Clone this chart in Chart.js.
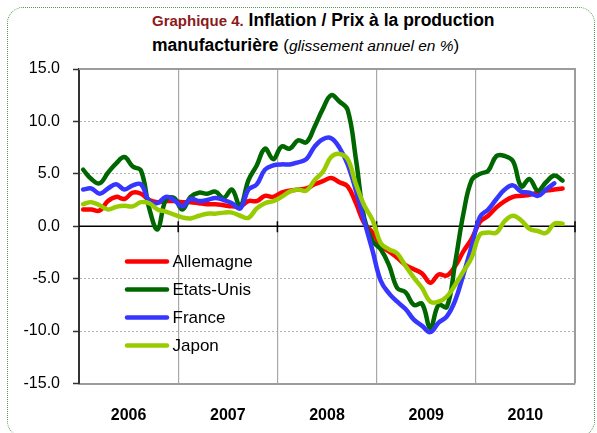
<!DOCTYPE html>
<html lang="fr">
<head>
<meta charset="utf-8">
<title>Graphique 4</title>
<script src="https://cdn.jsdelivr.net/npm/chart.js@4.4.1/dist/chart.umd.min.js"></script>
<style>
  html, body { margin: 0; padding: 0; background: #fff; overflow: hidden; }
  #wrap { position: relative; width: 597px; height: 433px; }
  #frame {
    position: absolute; left: 7px; top: 7px; width: 588px; height: 430px;
    border: 1px dotted #4a9a4a; border-radius: 16px; box-sizing: border-box;
  }
  #title {
    position: absolute; left: 152px; top: 8px;
    font-family: "Liberation Sans", Arial, sans-serif;
    font-weight: bold; font-size: 17.5px; line-height: 24px;
    color: #000; white-space: nowrap;
  }
  #title .num { color: #8b1a1a; font-size: 15px; }
  #title .sub { font-weight: normal; font-size: 17px; }
  #title .sub i { font-size: 15.5px; }
  canvas { position: absolute; left: 0; top: 0; }
</style>
</head>
<body>
<div id="wrap">
  <div id="frame"></div>
  <div id="title"><span class="num">Graphique 4.</span> Inflation / Prix à la production<br>manufacturière <span class="sub">(<i>glissement annuel en %</i>)</span></div>
  <canvas id="chart" width="597" height="433"></canvas>
</div>
<script>
// Glissement annuel mensuel, janvier 2006 -> novembre 2010

const countries = ['Allemagne', 'Etats-Unis', 'France', 'Japon'];
const colours = ['#ff0000', '#006600', '#3636ff', '#99cc00'];
const yearLabels = ['2006', '2007', '2008', '2009', '2010'];
const yearEdges = [12, 24, 36, 48, 60];

const allemagne = [
    1.6, 1.6, 1.5, 2.4, 2.8, 2.6, 3.2, 3.1, 2.5, 2.3, 2.4, 2.4,
    2.3, 2.3, 2.2, 2.1, 2.1, 2.0, 1.9, 1.9, 2.4, 2.4, 2.9, 2.8,
    3.2, 3.4, 3.5, 3.6, 4.0, 4.3, 4.6, 4.2, 3.8, 2.2, 0.3, -0.6,
    -1.8, -2.4, -3.0, -3.7, -4.1, -4.5, -5.4, -4.6, -4.7, -3.8, -2.4, -1.2,
    0.4, 1.0, 1.8, 2.4, 2.8, 2.9, 3.0, 3.2, 3.4, 3.5, 3.6
];
const etatsUnis = [
    5.4, 4.5, 4.1, 5.1, 6.0, 6.6, 5.7, 5.3, 1.7, -0.3, 2.5, 2.7,
    1.6, 2.8, 3.2, 3.1, 3.3, 2.7, 3.5, 1.9, 4.4, 5.8, 7.4, 6.4,
    7.6, 7.4, 8.2, 8.0, 9.5, 11.2, 12.5, 11.9, 11.1, 6.4, 0.8, -1.4,
    -2.2, -3.7, -5.9, -6.3, -7.5, -7.4, -9.7, -7.5, -7.7, -3.5, 1.2, 4.4,
    5.0, 5.3, 6.7, 6.7, 6.2, 3.8, 4.5, 3.4, 4.2, 4.85, 4.35
];
const france = [
    3.5, 3.6, 3.1, 3.6, 4.0, 3.5, 3.9, 4.0, 2.4, 2.2, 2.8, 2.5,
    1.9, 2.6, 2.4, 2.5, 2.7, 2.5, 2.2, 1.7, 3.5, 4.0, 5.4, 5.8,
    5.9, 5.9, 6.1, 6.4, 7.6, 8.3, 8.4, 7.5, 5.9, 3.4, 0.5, -2.3,
    -5.2, -6.4, -7.2, -7.9, -8.9, -9.5, -10.1, -9.2, -8.6, -7.1, -4.6, -1.9,
    0.9, 1.6, 2.6, 3.5, 3.9, 3.3, 3.2, 2.9, 3.5, 4.1
];
const japon = [
    2.1, 2.3, 2.0, 1.6, 1.85, 1.95, 1.9, 2.3, 2.2, 1.6, 1.4, 1.1,
    0.85, 0.75, 1.0, 1.2, 1.2, 1.3, 1.3, 1.0, 0.8, 1.7, 2.2, 2.4,
    2.8, 3.3, 3.5, 3.4, 4.4, 5.2, 6.6, 6.9, 6.4, 4.0, 2.0, 0.6,
    -1.6, -2.2, -2.6, -3.8, -4.9, -5.9, -7.2, -7.2, -6.7, -5.6, -4.3, -3.0,
    -0.8, -0.6, -0.6, 0.5, 1.0, 0.55, -0.25, -0.45, -0.65, 0.25, 0.25
];

const seriesValues = [allemagne, etatsUnis, france, japon];
const FONT = '"Liberation Sans", Arial, sans-serif';

// points sit in the middle of each month
function toPoints(values) {
    return values.map((v, i) => ({ x: i + 0.5, y: v }));
}

const datasets = countries.map((name, k) => ({
    label: name,
    data: toPoints(seriesValues[k]),
    borderColor: colours[k],
    borderWidth: 4.5,
    borderCapStyle: 'round',
    borderJoinStyle: 'round',
    pointRadius: 0,
    tension: 0.4,
    fill: false
})).reverse(); // Japon drawn on top

// top / right border, zero line with its tick marks
const framePlugin = {
    id: 'frame',
    beforeDatasetsDraw(chart) {
        const { ctx, chartArea: a, scales: { x, y } } = chart;
        ctx.save();
        ctx.strokeStyle = '#9c9c9c';
        ctx.lineWidth = 2;
        ctx.beginPath();
        ctx.moveTo(a.left, a.top);
        ctx.lineTo(a.right, a.top);
        ctx.lineTo(a.right, a.bottom);
        ctx.stroke();

        const y0 = y.getPixelForValue(0);
        ctx.strokeStyle = '#000';
        ctx.lineWidth = 1.5;
        ctx.beginPath();
        ctx.moveTo(a.left, y0);
        ctx.lineTo(a.right, y0);
        yearEdges.forEach(v => {
            const px = x.getPixelForValue(v);
            ctx.moveTo(px, y0 - 5);
            ctx.lineTo(px, y0 + 6);
        });
        ctx.stroke();
        ctx.restore();
    }
};

// legend inside the plot, no box
const legendPlugin = {
    id: 'insideLegend',
    afterDatasetsDraw(chart) {
        const { ctx, chartArea: a } = chart;
        ctx.save();
        ctx.font = '17px ' + FONT;
        ctx.textBaseline = 'middle';
        ctx.fillStyle = '#000';
        countries.forEach((name, k) => {
            const yy = a.top + 192.5 + k * 28;
            ctx.strokeStyle = colours[k];
            ctx.lineWidth = 4.5;
            ctx.lineCap = 'round';
            ctx.beginPath();
            ctx.moveTo(a.left + 48, yy);
            ctx.lineTo(a.left + 88, yy);
            ctx.stroke();
            ctx.fillText(name, a.left + 93.5, yy + 1);
        });
        ctx.restore();
    }
};

new Chart(document.getElementById('chart'), {
    type: 'line',
    data: { datasets: datasets },
    options: {
        responsive: false,
        animation: false,
        events: [],
        layout: { padding: { top: 69, right: 20, left: 0, bottom: 0 } },
        plugins: {
            legend: { display: false },
            tooltip: { enabled: false }
        },
        scales: {
            x: {
                type: 'linear',
                min: 0,
                max: 60,
                afterFit: s => { s.height = 49.5; },
                ticks: {
                    stepSize: 6,
                    autoSkip: false,
                    maxRotation: 0,
                    padding: 22,
                    color: '#000',
                    font: { family: FONT, size: 16, weight: 'bold' },
                    callback: v => (v % 12 === 6 ? yearLabels[(v - 6) / 12] : '')
                },
                grid: {
                    drawTicks: false,
                    lineWidth: 1.2,
                    color: c => (c.tick && yearEdges.includes(c.tick.value) && c.tick.value < 60) ? '#a8a8a8' : 'transparent'
                },
                border: { color: '#9c9c9c', width: 2 }
            },
            y: {
                min: -15,
                max: 15,
                afterFit: s => { s.width = 79; },
                ticks: {
                    stepSize: 5,
                    padding: 13,
                    color: '#000',
                    font: { family: FONT, size: 16 },
                    callback: v => v.toFixed(1)
                },
                grid: {
                    tickLength: 6,
                    tickColor: '#333',
                    tickWidth: 1.5,
                    lineWidth: 1,
                    color: c => (c.tick && (Math.abs(c.tick.value) === 15 || c.tick.value === 0)) ? 'transparent' : '#b4b4b4'
                },
                border: { color: '#333', width: 2, dash: [2, 2] }
            }
        }
    },
    plugins: [framePlugin, legendPlugin]
});
</script>
</body>
</html>
